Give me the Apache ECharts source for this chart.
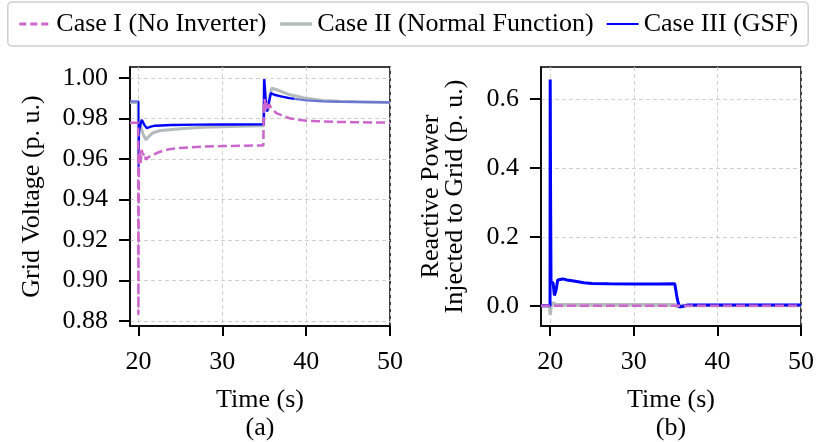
<!DOCTYPE html>
<html>
<head>
<meta charset="utf-8">
<script src="https://cdn.jsdelivr.net/npm/echarts@6/dist/echarts.min.js"></script>
<style>
  html, body { margin: 0; padding: 0; background: #ffffff; }
  #chart { width: 816px; height: 442px; }
</style>
</head>
<body>
<div id="chart"></div>
<script>
// ---------- data ----------
const seriesNames = ['Case I (No Inverter)', 'Case II (Normal Function)', 'Case III (GSF)'];

// Panel (a): grid voltage (p.u.) vs time (s)
const timeV1 = [19, 19.98, 20.0, 20.03, 20.08, 20.15, 20.25, 20.4, 20.55, 20.7, 20.9, 21.2, 21.7, 22.5, 23.7, 25, 27.7, 30, 32, 34.9, 34.95, 35.05, 35.15, 35.3, 35.45, 35.6, 35.8, 36.45, 37, 38, 39, 40, 42, 44, 46.4, 50];
const voltCase1 = [0.978, 0.978, 0.883, 0.93, 0.962, 0.9645, 0.958, 0.9645, 0.962, 0.963, 0.9597, 0.961, 0.9621, 0.9635, 0.9649, 0.9655, 0.9662, 0.9664, 0.9666, 0.9667, 0.985, 0.9896, 0.984, 0.988, 0.985, 0.987, 0.9855, 0.9827, 0.9818, 0.9802, 0.9795, 0.9789, 0.9786, 0.9783, 0.9782, 0.978];

const timeV2 = [19, 19.98, 20.0, 20.05, 20.15, 20.3, 20.5, 20.7, 20.9, 21.2, 21.7, 22.5, 23.7, 25, 27.7, 30, 32, 34.95, 35.0, 35.1, 35.25, 35.45, 35.7, 35.9, 36.3, 37, 38, 39, 40, 42, 44, 46, 50];
const voltCase2 = [0.988, 0.988, 0.958, 0.976, 0.978, 0.976, 0.973, 0.971, 0.9695, 0.971, 0.9729, 0.974, 0.9745, 0.975, 0.9757, 0.976, 0.9762, 0.9765, 0.999, 0.994, 0.986, 0.984, 0.992, 0.995, 0.9945, 0.9935, 0.9918, 0.991, 0.990, 0.989, 0.9886, 0.9883, 0.988];

const timeV3 = [19, 19.98, 20.0, 20.05, 20.1, 20.25, 20.4, 20.7, 21.0, 21.5, 22, 24, 27, 30, 34.95, 35.0, 35.15, 35.35, 35.5, 35.8, 36.2, 37, 38, 40, 42, 44, 50];
const voltCase3 = [0.9885, 0.9885, 0.956, 0.972, 0.9745, 0.977, 0.9794, 0.977, 0.9753, 0.976, 0.9765, 0.9768, 0.977, 0.9771, 0.9772, 0.9995, 0.990, 0.9835, 0.9868, 0.9926, 0.9918, 0.991, 0.9901, 0.989, 0.9885, 0.9883, 0.988];

// Panel (b): reactive power injected to grid (p.u.) vs time (s)
const timeQ1 = [18.9, 50];
const qCase1 = [0, 0];

const timeQ2 = [18.9, 19.98, 20.0, 20.1, 20.3, 20.6, 21, 34.95, 35.2, 35.5, 50];
const qCase2 = [0, 0, -0.026, 0.0, 0.008, 0.004, 0.003, 0.003, -0.003, 0.001, 0.001];

const timeQ3 = [18.9, 19.98, 20.0, 20.05, 20.1, 20.2, 20.35, 20.5, 20.7, 20.9, 21.1, 21.5, 22, 23, 24, 25, 27, 30, 33, 34.9, 35.0, 35.2, 35.45, 35.8, 36.5, 40, 45, 50];
const qCase3 = [0, 0, 0.657, 0.30, 0.07, 0.072, 0.066, 0.03, 0.045, 0.075, 0.080, 0.078, 0.075, 0.071, 0.067, 0.065, 0.064, 0.063, 0.063, 0.064, 0.06, 0.02, -0.004, -0.002, 0.002, 0.002, 0.002, 0.002];

// Tick labels
const timeTicks = [20, 30, 40, 50];
const voltTicks = [0.88, 0.90, 0.92, 0.94, 0.96, 0.98, 1.00];
const qTicks = [0.0, 0.2, 0.4, 0.6];

// ---------- chart ----------
const zip = (xs, ys) => xs.map((x, i) => [x, ys[i]]);
const FONT = 'Liberation Serif';
const FS = 26;
const COL1 = '#cc66cc', COL2 = '#b3bbbb', COL3 = '#0000ff', COL3_MIX = '#6a76d4';

function xAxisDef(gridIndex, min, tag) {
  return {
    type: 'value', gridIndex: gridIndex, min: min, max: 50,
    name: 'Time (s)\n' + tag,
    nameLocation: 'middle', nameGap: 60,
    nameTextStyle: { fontFamily: FONT, fontSize: FS, color: '#000', lineHeight: 28 },
    axisLine: { show: true, onZero: false, lineStyle: { color: '#000', width: 1.5 } },
    axisTick: { show: true, inside: false, length: 10, customValues: timeTicks, lineStyle: { color: '#000', width: 2 } },
    axisLabel: { customValues: timeTicks, margin: 23, fontFamily: FONT, fontSize: FS, color: '#000',
                 formatter: v => String(v) },
    splitLine: { show: true, lineStyle: { color: '#d0d0d0', type: [4, 3], width: 1 } }
  };
}

function yAxisDef(gridIndex, min, max, ticks, dec, name, gap) {
  return {
    type: 'value', gridIndex: gridIndex, min: min, max: max,
    name: name, nameLocation: 'middle', nameGap: gap,
    nameTextStyle: { fontFamily: FONT, fontSize: FS, color: '#000', lineHeight: 24 },
    axisLine: { show: true, onZero: false, lineStyle: { color: '#000', width: 1.5 } },
    axisTick: { show: true, inside: false, length: 11, customValues: ticks, lineStyle: { color: '#000', width: 2 } },
    axisLabel: { customValues: ticks, margin: 22, fontFamily: FONT, fontSize: FS, color: '#000',
                 formatter: v => Number(v).toFixed(dec) },
    splitLine: { show: true, lineStyle: { color: '#d0d0d0', type: [4, 3], width: 1 } }
  };
}

const chart = echarts.init(document.getElementById('chart'), null, { renderer: 'canvas' });

const option = {
  animation: false,
  backgroundColor: '#ffffff',
  legend: {
    data: [
      { name: seriesNames[0], lineStyle: { color: COL1, width: 3, type: [7, 4] } },
      { name: seriesNames[1], lineStyle: { color: COL2, width: 3.5 } },
      { name: seriesNames[2], lineStyle: { color: COL3, width: 2 } }
    ],
    left: 'center', top: 2,
    padding: [9, 10],
    itemGap: 12, itemWidth: 32, itemHeight: 14,
    itemStyle: { opacity: 0 },
    borderColor: '#d0d0d0', borderWidth: 1.5, borderRadius: 4,
    textStyle: { fontFamily: FONT, fontSize: FS, color: '#000' }
  },
  visualMap: [{
    type: 'piecewise', show: false, seriesIndex: 1, dimension: 0,
    pieces: [
      { lt: 19.99, color: COL3_MIX },
      { gte: 19.99, lt: 38.5, color: COL3 },
      { gte: 38.5, color: COL3_MIX }
    ]
  }],
  grid: [
    { left: 130, top: 67, width: 260, height: 259, show: true, borderColor: '#000', borderWidth: 1.5,
      backgroundColor: 'transparent', outerBoundsMode: 'none', containLabel: false },
    { left: 541, top: 67, width: 260, height: 259, show: true, borderColor: '#000', borderWidth: 1.5,
      backgroundColor: 'transparent', outerBoundsMode: 'none', containLabel: false }
  ],
  xAxis: [ xAxisDef(0, 19, '(a)'), xAxisDef(1, 18.9, '(b)') ],
  yAxis: [
    yAxisDef(0, 0.8775, 1.0055, voltTicks, 2, 'Grid Voltage (p. u.)', 86),
    yAxisDef(1, -0.0588, 0.6936, qTicks, 1, 'Reactive Power\nInjected to Grid (p. u.)', 74)
  ],
  series: [
    // panel (a) - draw order: II (bottom), III, I (top)
    { name: seriesNames[1], type: 'line', xAxisIndex: 0, yAxisIndex: 0, data: zip(timeV2, voltCase2),
      showSymbol: false, symbol: 'none', lineStyle: { color: COL2, width: 3 }, itemStyle: { color: COL2 } },
    { name: seriesNames[2], type: 'line', xAxisIndex: 0, yAxisIndex: 0, data: zip(timeV3, voltCase3),
      showSymbol: false, symbol: 'none', lineStyle: { width: 2.4 }, itemStyle: { color: COL3 } },
    { name: seriesNames[0], type: 'line', xAxisIndex: 0, yAxisIndex: 0, data: zip(timeV1, voltCase1),
      showSymbol: false, symbol: 'none', lineStyle: { color: COL1, width: 2.5, type: [9, 4] }, itemStyle: { color: COL1 } },
    // panel (b)
    { name: seriesNames[1], type: 'line', xAxisIndex: 1, yAxisIndex: 1, data: zip(timeQ2, qCase2),
      showSymbol: false, symbol: 'none', lineStyle: { color: COL2, width: 3.5 }, itemStyle: { color: COL2 } },
    { name: seriesNames[2], type: 'line', xAxisIndex: 1, yAxisIndex: 1, data: zip(timeQ3, qCase3),
      showSymbol: false, symbol: 'none', lineStyle: { color: COL3, width: 3 }, itemStyle: { color: COL3 } },
    { name: seriesNames[0], type: 'line', xAxisIndex: 1, yAxisIndex: 1, data: zip(timeQ1, qCase1),
      showSymbol: false, symbol: 'none', lineStyle: { color: COL1, width: 2.5, type: [9, 4] }, itemStyle: { color: COL1 } }
  ]
};
chart.setOption(option);
</script>
</body>
</html>
